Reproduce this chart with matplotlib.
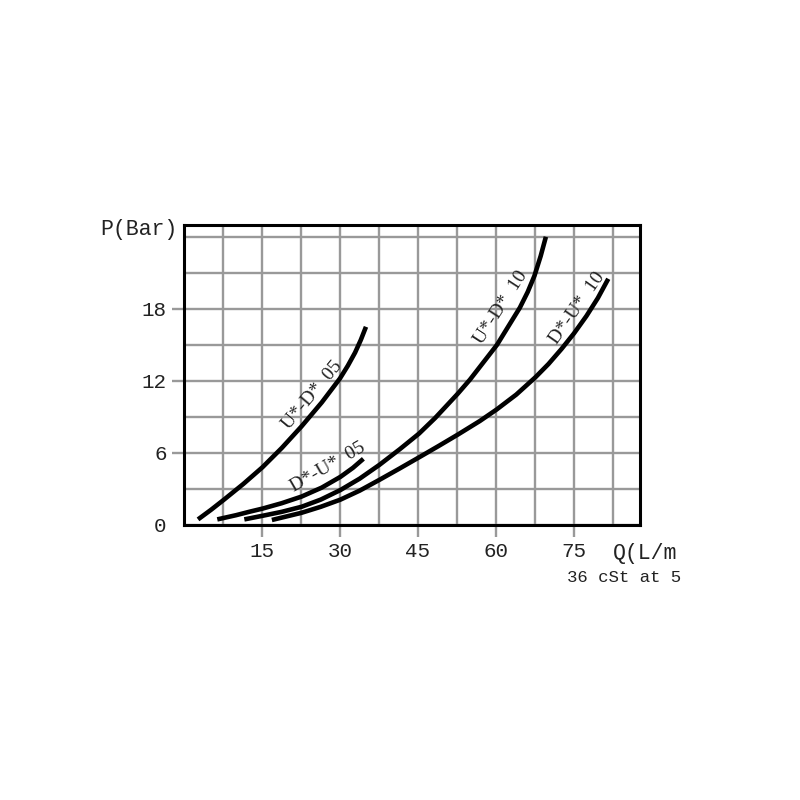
import numpy as np
import matplotlib
matplotlib.use("Agg")
import matplotlib.pyplot as plt

# curves: Q (L/min) vs P (Bar)
q_ud05 = [2.7, 5.2, 7.7, 11.4, 15.1, 18.8, 22.6, 26.5, 30.0, 31.5, 32.9, 34.0, 35.0]
p_ud05 = [0.45, 1.25, 2.1, 3.4, 4.8, 6.4, 8.2, 10.2, 12.2, 13.25, 14.35, 15.4, 16.5]

q_du05 = [6.4, 10.0, 12.7, 15.1, 18.8, 22.6, 26.5, 30.1, 32.5, 34.5]
p_du05 = [0.45, 0.8, 1.1, 1.35, 1.8, 2.35, 3.1, 4.0, 4.75, 5.5]

q_ud10 = [11.6, 15.1, 18.8, 22.6, 26.3, 30.1, 33.8, 37.6, 41.5, 45.2,
          48.3, 52.6, 55.0, 60.2, 64.6, 66.1, 67.4, 68.6, 69.6]
p_ud10 = [0.45, 0.75, 1.08, 1.5, 2.1, 2.9, 3.85, 5.0, 6.3, 7.6,
          8.9, 10.9, 12.1, 15.0, 18.1, 19.4, 20.75, 22.4, 24.0]

q_du10 = [16.9, 22.6, 26.3, 30.1, 33.8, 37.6, 41.5, 45.2, 48.9, 52.6,
          56.9, 60.1, 63.9, 67.6, 70.1, 72.6, 75.0, 77.4, 79.6, 81.6]
p_du10 = [0.4, 1.0, 1.5, 2.1, 2.85, 3.75, 4.7, 5.62, 6.55, 7.5,
          8.65, 9.6, 10.85, 12.3, 13.4, 14.65, 15.95, 17.4, 18.9, 20.5]

curve_labels = ["U*-D*  05", "D*-U*  05", "U*-D*  10", "D*-U*  10"]
label_pos = [(25.2, 10.6, 50), (28.1, 4.5, 30), (61.7, 17.9, 57), (76.2, 17.85, 55)]

x_ticks = [15, 30, 45, 60, 75]
y_ticks = [0, 6, 12, 18]

mono = "Liberation Mono"

fig = plt.figure(figsize=(8, 8), dpi=100)
ax = fig.add_axes([0.23, 0.344, 0.57, 0.375])

ax.set_xlim(0, 87.7)
ax.set_ylim(0, 25)

# grid every 7.5 L/min and 3 bar
ax.set_xticks(np.arange(7.5, 87.7, 7.5), minor=True)
ax.set_yticks(np.arange(3, 25, 3), minor=True)
ax.set_xticks(x_ticks)
ax.set_yticks(y_ticks)
ax.grid(True, which="both", color="#999999", lw=1.7)
ax.set_axisbelow(True)
ax.tick_params(which="minor", length=0)
ax.tick_params(which="major", length=8.5, width=1.7, color="#999999",
               labelsize=15, pad=4)
ax.yaxis.get_major_ticks()[0].tick1line.set_visible(False)
for lab in ax.get_xticklabels() + ax.get_yticklabels():
    lab.set_fontfamily(mono)
    lab.set_color("#222222")

for s in ax.spines.values():
    s.set_linewidth(2.2)
    s.set_color("black")

for q, p in [(q_ud05, p_ud05), (q_du05, p_du05), (q_ud10, p_ud10), (q_du10, p_du10)]:
    ax.plot(q, p, color="black", lw=3.3, solid_capstyle="butt",
            solid_joinstyle="round")

# labels sit just above/left of their curve
for txt, (x, y, rot) in zip(curve_labels, label_pos):
    off = 4
    dx = -off * np.sin(np.radians(rot))
    dy = off * np.cos(np.radians(rot))
    ax.annotate(txt, (x, y), xytext=(dx, dy), textcoords="offset pixels",
                rotation=rot, ha="center", va="center", fontsize=14,
                family="Liberation Serif", rotation_mode="anchor",
                color="#222222")

fig.text(178 / 800, 1 - 230 / 800, "P(Bar)", ha="right", va="center",
         fontsize=15.5, family=mono, color="#222222")
fig.text(613 / 800, 1 - 554 / 800, "Q(L/m", ha="left", va="center",
         fontsize=15.5, family=mono, color="#222222")
fig.text(567 / 800, 1 - 578 / 800, "36 cSt at 5", ha="left", va="center",
         fontsize=12.5, family=mono, color="#222222")

fig.savefig("out.png", dpi=100)
